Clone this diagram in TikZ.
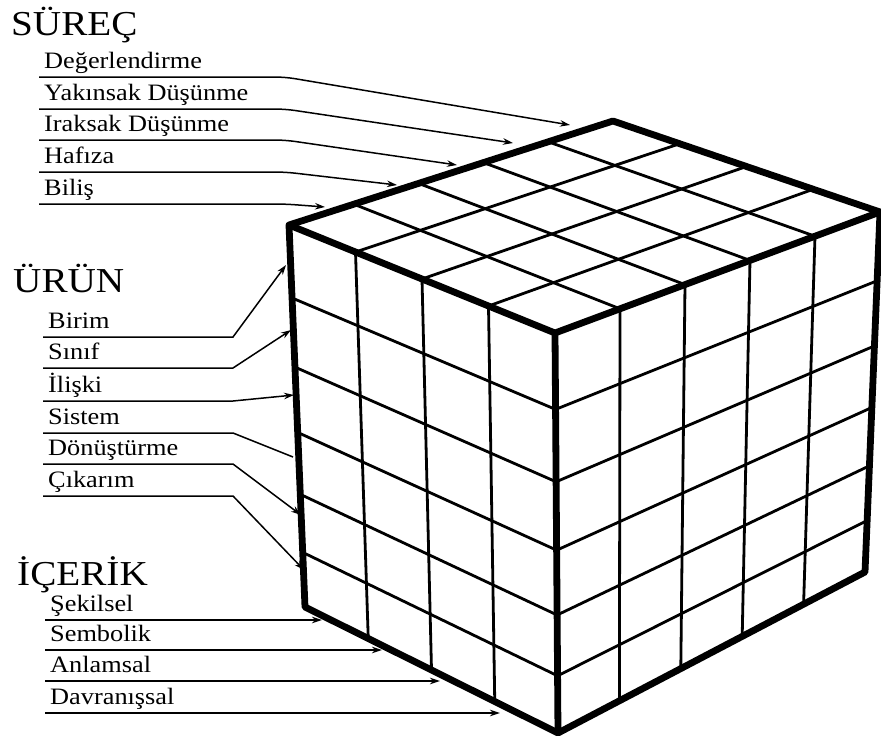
\documentclass[tikz,border=0pt]{standalone}
\usepackage{fontspec}
\setmainfont{Liberation Serif}[FakeStretch=1.12]
\usetikzlibrary{arrows.meta, calc}

\begin{document}
\begin{tikzpicture}[
        x=1pt, y=-1pt,
        cat/.style={font=\fontsize{35}{35}\selectfont, inner sep=0pt, anchor=base west},
        lbl/.style={font=\fontsize{23.5}{23.5}\selectfont, inner xsep=5pt, inner ysep=0pt, text depth=8pt, anchor=south west},
        ptr/.style={line width=1.5pt, -{Stealth[length=10pt, width=6.5pt]}},
        cubeedge/.style={line width=6.8pt, line join=round},
        cubeline/.style={line width=2.8pt}
    ]
    \useasboundingbox (0,0) rectangle (881,736);

    % cube corners
    \coordinate (A) at (289,225);
    \coordinate (B) at (613,121);
    \coordinate (C) at (880,212);
    \coordinate (D) at (555,333);
    \coordinate (E) at (558,733);
    \coordinate (F) at (305,607);
    \coordinate (G) at (865,572);

    % top face
    \foreach \i in {1,2,3}
        \draw[cubeline] ($(A)!\i/4!(D)$) -- ($(B)!\i/4!(C)$);
    \foreach \j in {1,...,4}
        \draw[cubeline] ($(A)!\j/5!(B)$) -- ($(D)!\j/5!(C)$);
    % left face
    \foreach \i in {1,2,3}
        \draw[cubeline] ($(A)!\i/4!(D)$) -- ($(F)!\i/4!(E)$);
    % right face
    \foreach \j in {1,...,4}
        \draw[cubeline] ($(D)!\j/5!(C)$) -- ($(E)!\j/5!(G)$);
    % rows, a bit smaller towards the bottom
    \foreach \t in {0.191,0.372,0.543,0.705,0.857} {
        \draw[cubeline] ($(A)!\t!(F)$) -- ($(D)!\t!(E)$);
        \draw[cubeline] ($(D)!\t!(E)$) -- ($(C)!\t!(G)$);
    }
    \draw[cubeedge] (A) -- (B) -- (C) -- (G) -- (E) -- (F) -- cycle;
    \draw[cubeedge] (A) -- (D) -- (C);
    \draw[cubeedge] (D) -- (E);

    % bends and arrow ends
    \coordinate (sbend) at (285,0);
    \coordinate (ubend) at (233,0);
    \coordinate (tdeg) at (570,125);
    \coordinate (tyak) at (513,143);
    \coordinate (tira) at (457,165);
    \coordinate (thaf) at (397,185);
    \coordinate (tbil) at (325,207);
    \coordinate (tbir) at (286,265);
    \coordinate (tsin) at (291,330);
    \coordinate (tili) at (294,395);
    \coordinate (tsis) at (293,457);
    \coordinate (tdon) at (301,515);
    \coordinate (tcik) at (304,570);
    \coordinate (tsek) at (322,620);
    \coordinate (tsem) at (382,650);
    \coordinate (tanl) at (440,681);
    \coordinate (tdav) at (500,713);

    % SÜREÇ
    \node[cat] (surec) at (11,35) {SÜREÇ};
    \node[lbl] (deg) at (39,77) {Değerlendirme};
    \node[lbl] (yak) at (39,109) {Yakınsak Düşünme};
    \node[lbl] (ira) at (39,140) {Iraksak Düşünme};
    \node[lbl] (haf) at (39,172) {Hafıza};
    \node[lbl] (bil) at (39,204) {Biliş};

    \draw[ptr, rounded corners=10pt] (deg.south west) -- (deg.south west -| sbend) -- (tdeg);
    \draw[ptr, rounded corners=10pt] (yak.south west) -- (yak.south west -| sbend) -- (tyak);
    \draw[ptr, rounded corners=10pt] (ira.south west) -- (ira.south west -| sbend) -- (tira);
    \draw[ptr, rounded corners=10pt] (haf.south west) -- (haf.south west -| sbend) -- (thaf);
    \draw[ptr, rounded corners=10pt] (bil.south west) -- (bil.south west -| sbend) -- (tbil);

    % ÜRÜN
    \node[cat] (urun) at (13,292) {ÜRÜN};
    \node[lbl] (bir) at (43,337) {Birim};
    \node[lbl] (sin) at (43,368) {Sınıf};
    \node[lbl] (ili) at (43,401) {İlişki};
    \node[lbl] (sis) at (43,433) {Sistem};
    \node[lbl] (don) at (43,464) {Dönüştürme};
    \node[lbl] (cik) at (43,496) {Çıkarım};

    \draw[ptr] (bir.south west) -- (bir.south west -| ubend) -- (tbir);
    \draw[ptr] (sin.south west) -- (sin.south west -| ubend) -- (tsin);
    \draw[ptr] (ili.south west) -- (ili.south west -| ubend) -- (tili);
    \draw[line width=1.5pt] (sis.south west) -- (sis.south west -| ubend) -- (tsis);
    \draw[ptr] (don.south west) -- (don.south west -| ubend) -- (tdon);
    \draw[ptr] (cik.south west) -- (cik.south west -| ubend) -- (tcik);

    % İÇERİK
    \node[cat] (icerik) at (17,585) {İÇERİK};
    \node[lbl] (sek) at (45,620) {Şekilsel};
    \node[lbl] (sem) at (45,650) {Sembolik};
    \node[lbl] (anl) at (45,681) {Anlamsal};
    \node[lbl] (dav) at (45,713) {Davranışsal};

    \draw[ptr] (sek.south west) -- (tsek);
    \draw[ptr] (sem.south west) -- (tsem);
    \draw[ptr] (anl.south west) -- (tanl);
    \draw[ptr] (dav.south west) -- (tdav);
\end{tikzpicture}
\end{document}
